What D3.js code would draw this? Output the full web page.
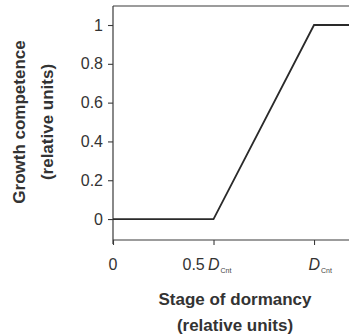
<!DOCTYPE html>
<html>
<head>
<meta charset="utf-8">
<script src="https://cdn.jsdelivr.net/npm/d3@7"></script>
<style>
  html, body { margin: 0; padding: 0; background: #fff; }
  svg { display: block; font-family: "Liberation Sans", Arial, sans-serif; }
</style>
</head>
<body>
<svg id="chart" width="349" height="336"></svg>
<script>
// Growth competence as a function of dormancy stage (relative to D_Cnt)
const stage = [0, 0.5, 1, 1.2];
const competence = [0, 0, 1, 1];
const yTicks = [0, 0.2, 0.4, 0.6, 0.8, 1];
const xTicks = [0, 0.5, 1];
const xTickLabels = ["0", "0.5", ""];
const xTickSymbols = ["", "D", "D"];

const svg = d3.select("#chart");
const ink = "#3a3a3a";

const x = d3.scaleLinear().domain([0, 1.174]).range([113, 349]);
const y = d3.scaleLinear().domain([-0.108, 1.098]).range([240, 6]);

// Top frame line
svg.append("line")
  .attr("x1", x(0)).attr("x2", 349)
  .attr("y1", y.range()[1]).attr("y2", y.range()[1])
  .attr("stroke", ink).attr("stroke-width", 1.2);

// Y axis
const yAxis = svg.append("g")
  .attr("transform", `translate(${x(0)},0)`)
  .call(d3.axisLeft(y).tickValues(yTicks).tickSize(5).tickPadding(5)
    .tickFormat(d => d === 0 ? "0" : d === 1 ? "1" : d3.format(".1f")(d)));
yAxis.select(".domain").attr("stroke", ink).attr("stroke-width", 1.2)
  .attr("d", `M0,${y.range()[1]}V${y.range()[0] + 4}`);
yAxis.selectAll(".tick line").attr("stroke", ink).attr("stroke-width", 1.1);
yAxis.selectAll(".tick text").attr("fill", "#333").style("font-size", "16px");

// X axis
const xAxis = svg.append("g")
  .attr("transform", `translate(0,${y.range()[0]})`)
  .call(d3.axisBottom(x).tickValues(xTicks).tickSize(5).tickFormat(""));
xAxis.select(".domain").attr("stroke", ink).attr("stroke-width", 1.2)
  .attr("d", `M${x(0)},0H349`);
xAxis.selectAll(".tick line").attr("stroke", ink).attr("stroke-width", 1.1);

// X tick labels: italic D sits on the tick, subscript "Cnt" trails it
xTicks.forEach((v, i) => {
  const px = x(v);
  if (!xTickSymbols[i]) {
    svg.append("text").attr("x", px).attr("y", 270).attr("text-anchor", "middle")
      .attr("fill", "#333").style("font-size", "16px").text(xTickLabels[i]);
    return;
  }
  const t = svg.append("text")
    .attr("x", px + 6).attr("y", 270)
    .attr("text-anchor", "end")
    .attr("fill", "#333")
    .style("font-size", "16px");
  if (xTickLabels[i]) t.append("tspan").text(xTickLabels[i] + "\u2009");
  t.append("tspan").attr("font-style", "italic").text(xTickSymbols[i]);
  svg.append("text").attr("x", px + 7).attr("y", 273)
    .attr("fill", "#444").style("font-size", "7px").text("Cnt");
});

// Competence curve
svg.append("path")
  .datum(stage.map((s, i) => [s, competence[i]]))
  .attr("fill", "none")
  .attr("stroke", "#2a2a2a")
  .attr("stroke-width", 1.8)
  .attr("stroke-linejoin", "miter")
  .attr("d", d3.line().x(d => x(d[0])).y(d => y(d[1])));

// Axis titles
const titleStyle = sel => sel.attr("text-anchor", "middle").attr("fill", "#333")
  .style("font-size", "17px").style("font-weight", "bold");
const yTitle = svg.append("g").attr("transform", "translate(0,122) rotate(-90)");
yTitle.append("text").attr("x", 0).attr("y", 25).call(titleStyle).text("Growth competence");
yTitle.append("text").attr("x", 0).attr("y", 53).call(titleStyle).text("(relative units)");

svg.append("text").attr("x", 235).attr("y", 305).call(titleStyle).text("Stage of dormancy");
svg.append("text").attr("x", 235).attr("y", 331).call(titleStyle).text("(relative units)");
</script>
</body>
</html>
